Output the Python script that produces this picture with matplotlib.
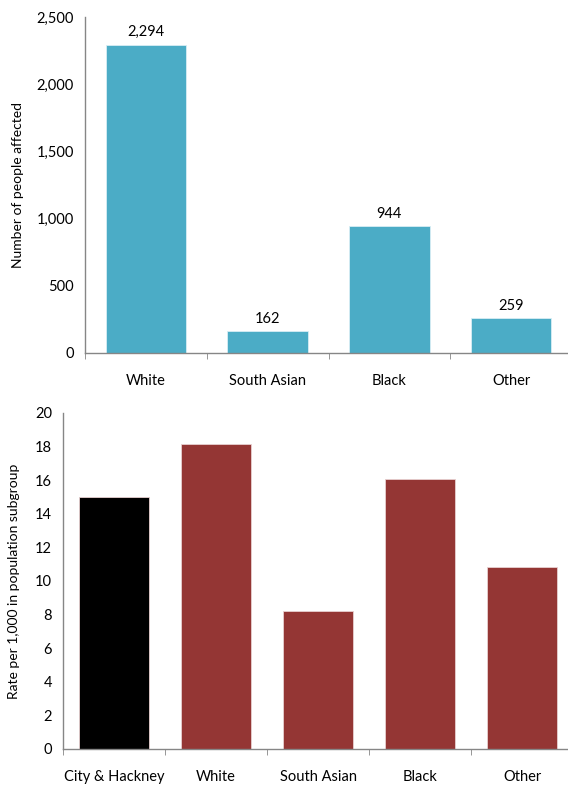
import numpy as np
import matplotlib.pyplot as plt
from matplotlib.ticker import FuncFormatter, FixedLocator

plt.rcParams['font.family'] = ['Lato', 'DejaVu Sans']

# --- data ---
groups_top = ['White', 'South Asian', 'Black', 'Other']
people_affected = [2294, 162, 944, 259]

groups_bottom = ['City & Hackney', 'White', 'South Asian', 'Black', 'Other']
rate_per_1000 = [15.0, 18.17, 8.21, 16.05, 10.83]
bottom_colors = ['#000000', '#943634', '#943634', '#943634', '#943634']

TEAL = '#4BACC6'
AXIS_GREY = '#868686'
W, H = 568, 787

fig = plt.figure(figsize=(W / 100, H / 100), dpi=100)


def style_axes(ax, n):
    for s in ['top', 'right']:
        ax.spines[s].set_visible(False)
    for s in ['left', 'bottom']:
        ax.spines[s].set_color(AXIS_GREY)
        ax.spines[s].set_linewidth(1.0)
    ax.set_xlim(-0.5, n - 0.5)
    ax.set_xticks(np.arange(n))
    ax.xaxis.set_minor_locator(FixedLocator(np.arange(n + 1) - 0.5))
    ax.tick_params(axis='x', which='major', length=0, pad=15, labelsize=10.5)
    ax.tick_params(axis='x', which='minor', length=4, color=AXIS_GREY, direction='out')
    ax.tick_params(axis='y', length=0, pad=8, labelsize=10.5)


# top panel: counts
ax1 = fig.add_axes([85 / W, (H - 353) / H, 487 / W, 336 / H])
x1 = np.arange(len(groups_top))
bars = ax1.bar(x1, people_affected, width=0.66, color=TEAL, edgecolor='#d8eef4', linewidth=0.6)
ax1.set_ylim(0, 2500)
ax1.set_yticks(np.arange(0, 2501, 500))
ax1.yaxis.set_major_formatter(FuncFormatter(lambda v, p: f'{int(v):,}'))
ax1.set_xticks(x1)
ax1.set_xticklabels(groups_top)
style_axes(ax1, len(groups_top))
ax1.set_ylabel('Number of people affected', fontsize=10, labelpad=9)
for b, v in zip(bars, people_affected):
    ax1.text(b.get_x() + b.get_width() / 2, v + 40, f'{v:,}', ha='center', va='bottom', fontsize=10.5)

# bottom panel: rates
ax2 = fig.add_axes([63 / W, (H - 749) / H, 510 / W, 336 / H])
x2 = np.arange(len(groups_bottom))
ax2.bar(x2, rate_per_1000, width=0.68, color=bottom_colors, edgecolor='#e8d0d0', linewidth=0.6)
ax2.set_ylim(0, 20)
ax2.set_yticks(np.arange(0, 21, 2))
ax2.set_xticks(x2)
ax2.set_xticklabels(groups_bottom)
style_axes(ax2, len(groups_bottom))
ax2.set_ylabel('Rate per 1,000 in population subgroup', fontsize=10, labelpad=11)

fig.savefig('out.png', dpi=100)
